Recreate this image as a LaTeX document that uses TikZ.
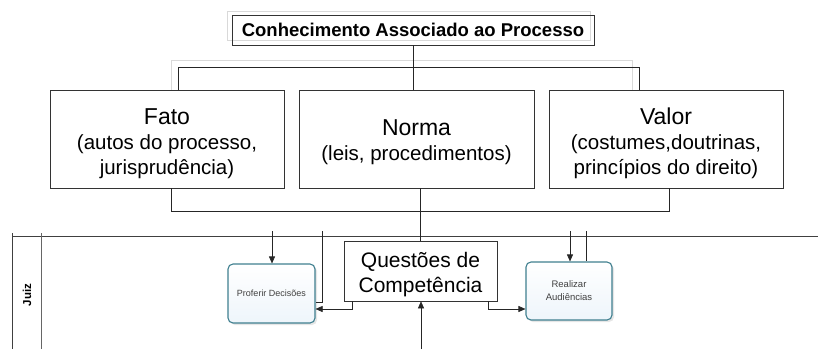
\documentclass[tikz,border=0pt]{standalone}
\usepackage{fontspec}
\setmainfont{Liberation Sans}
\usetikzlibrary{arrows.meta,positioning,shadows}

\definecolor{tealedge}{HTML}{3F7F8F}
\definecolor{paleblue}{HTML}{EEF5FB}
\newcommand{\topstrut}[1]{\rule{0pt}{#1}}

\begin{document}
\begin{tikzpicture}[x=1pt,y=-1pt,
  knowbox/.style={draw=black!80,line width=0.6pt,minimum width=234pt,minimum height=98pt,
    align=center,inner sep=0pt,font=\fontsize{20.5}{25}\selectfont},
  taskbox/.style={draw=tealedge,line width=1.1pt,rounded corners=5pt,
    top color=white,bottom color=paleblue,align=center,
    font=\fontsize{9}{13}\selectfont,text=black!75,
    drop shadow={opacity=0.2,shadow xshift=2pt,shadow yshift=-2pt}},
  wire/.style={draw=black!85,line width=0.6pt},
  ghost/.style={draw=black!15,line width=0.6pt},
  arr/.style={wire,-{Triangle[length=7pt,width=6pt]}}]
\useasboundingbox (0,0) rectangle (818,349);

% conhecimento
\draw[ghost] (227,11) rectangle (590,40);
\node[draw=black!80,line width=0.6pt,minimum width=362pt,minimum height=30pt,inner sep=0pt,
  font=\bfseries\fontsize{18.5}{20}\selectfont] (conh) at (413,30) {Conhecimento Associado ao Processo};

\node[knowbox] (fato) at (167,139) {\topstrut{25pt}{\fontsize{23}{26}\selectfont Fato}\\(autos do processo,\\jurisprud\^encia)};
\node[knowbox,minimum width=235pt] (norma) at (416.5,139) {\topstrut{23pt}{\fontsize{23}{26}\selectfont Norma}\\(leis, procedimentos)};
\node[knowbox] (valor) at (666,139) {\topstrut{25pt}{\fontsize{23}{26}\selectfont Valor}\\(costumes,doutrinas,\\princ\'ipios do direito)};

% barramento superior
\draw[ghost] ([xshift=4pt]fato.north) -- ++(0,-29) -| ([xshift=-34pt]valor.north);
\draw[wire] ([xshift=11pt]fato.north) -- ++(0,-22) -| ([xshift=-27pt]valor.north);
\draw[wire] (conh.south) -- (conh.south |- norma.north);

% raia
\draw[black!75,line width=0.6pt] (12,236) -- (818,236);
\draw[black!75,line width=0.6pt] (12,233) -- (12,349);
\draw[black!60,line width=0.6pt] (41,233) -- (41,349);
\node[rotate=90,font=\bfseries\fontsize{11.5}{12}\selectfont] (juiz) at (27,295) {Juiz};

\node[draw=black!80,line width=0.6pt,minimum width=153pt,minimum height=60pt,inner sep=0pt,
  align=center,font=\fontsize{21}{25}\selectfont] (ques) at (420.5,271) {\topstrut{23pt}Quest\~oes de\\Compet\^encia};
\node[taskbox,minimum width=87pt,minimum height=59pt] (prof) at (271.5,293.5) {Proferir Decis\~oes};
\node[taskbox,minimum width=86pt,minimum height=58pt,font=\fontsize{9.5}{13}\selectfont] (real) at (569,291) {Realizar\\Audi\^encias};

% barramento inferior
\draw[wire] ([xshift=4pt]fato.south) -- ++(0,23) -| ([xshift=3pt]valor.south);
\draw[wire] (norma.south -| ques.north) -- (ques.north);

% fluxos
\coordinate (inA) at (272,231);
\coordinate (inB) at (322,231);
\coordinate (inC) at (570,231);
\coordinate (inD) at (586,231);
\coordinate (inE) at (421,349);
\draw[arr] (inA) -- (inA |- prof.north);
\draw[wire] (inB) |- ([yshift=-8.5pt]prof.east);
\draw[arr] ([xshift=-68.5pt]ques.south) |- ([yshift=-15.5pt]prof.east);
\draw[arr] ([xshift=67.5pt]ques.south) |- ([yshift=-18pt]real.west);
\draw[arr] (inE) -- (inE |- ques.south);
\draw[arr] (inC) -- (inC |- real.north);
\draw[wire] (inD) -- (inD |- real.north);
\end{tikzpicture}
\end{document}
